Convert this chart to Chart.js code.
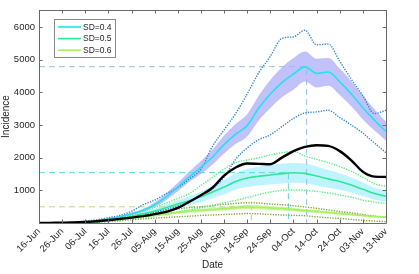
<!DOCTYPE html>
<html lang="en">
<head>
<meta charset="UTF-8">
<title>Incidence by SD</title>
<script src="https://cdn.jsdelivr.net/npm/chart.js@4/dist/chart.umd.min.js"></script>
<style>
  html, body { margin: 0; padding: 0; background: #fff; }
  #wrap { width: 419px; height: 274px; }
</style>
</head>
<body>
<div id="wrap"><canvas id="incChart"></canvas></div>
<script>
// days since 16-Jun, every 5 days
const days = [0,5,10,15,20,25,30,35,40,45,50,55,60,65,70,75,80,85,90,95,100,105,110,115,120,125,130,135,140,145,150];
const dateLabels = ['16-Jun','26-Jun','06-Jul','16-Jul','26-Jul','05-Aug','15-Aug','25-Aug','04-Sep','14-Sep','24-Sep','04-Oct','14-Oct','24-Oct','03-Nov','13-Nov'];
const yTicks = [0,1000,2000,3000,4000,5000,6000];

// observed incidence (black)
const observed = [2,5,8,15,30,55,90,125,165,210,270,340,460,650,850,1080,1450,1700,1820,1810,1800,2000,2200,2330,2380,2360,2200,1920,1570,1420,1410];

// SD=0.4
const sd4Mean  = [0,2,6,15,35,70,120,190,280,390,560,800,1100,1420,1700,2020,2400,2720,2980,3520,3950,4300,4560,4780,4580,4620,4320,3950,3530,3150,2800];
const sd4BandHi = [0,2,7,17,40,80,135,215,320,440,630,900,1230,1580,1900,2250,2680,3030,3330,3900,4380,4760,5050,5250,5030,5050,4730,4340,3900,3480,3100];
const sd4BandLo = [0,2,5,13,30,60,105,165,240,340,490,700,970,1260,1500,1790,2130,2420,2650,3140,3520,3850,4080,4330,4150,4200,3920,3570,3170,2830,2520];
const sd4Upper = [0,3,10,25,55,100,160,230,360,560,700,900,1080,1350,1650,2350,2850,3350,3950,4600,5100,5650,5700,5900,5450,5480,4950,4400,3900,3350,3450];
const sd4Lower = [0,1,4,9,20,40,70,110,160,230,330,420,520,640,850,1050,1400,1950,2300,2550,2700,2950,3200,3370,3400,3450,3230,3000,2750,2450,2150];

// SD=0.5
const sd5Mean  = [0,2,5,12,28,55,95,140,200,280,370,470,580,680,800,950,1100,1270,1380,1430,1470,1510,1540,1520,1440,1350,1270,1160,1030,900,820];
const sd5BandHi = [0,2,6,15,34,66,115,170,240,335,445,565,700,820,960,1140,1320,1520,1650,1720,1760,1810,1840,1820,1730,1620,1520,1390,1240,1080,980];
const sd5BandLo = [0,2,4,10,22,44,76,112,160,225,295,375,465,545,640,760,880,1020,1100,1145,1175,1210,1230,1215,1150,1080,1015,930,825,720,655];
const sd5Upper = [0,2,7,18,40,75,125,185,260,360,480,610,750,900,1150,1400,1650,1850,1930,2000,2080,2150,2190,2050,1950,1850,1730,1580,1400,1200,1120];
const sd5Lower = [0,1,3,8,18,35,60,90,130,170,220,280,340,400,470,540,620,690,780,870,950,1000,1010,1000,970,920,860,790,700,640,600];

// SD=0.6
const sd6Mean  = [0,2,5,10,22,45,75,115,155,200,240,280,320,360,390,415,440,465,490,480,460,440,410,380,350,320,290,260,230,200,180];
const sd6BandHi = [0,2,6,12,26,52,86,130,175,225,270,315,360,405,440,465,495,520,550,540,520,495,460,430,395,360,325,290,260,225,205];
const sd6BandLo = [0,2,4,8,18,38,64,100,135,175,210,245,280,315,340,365,385,410,430,420,400,385,360,330,305,280,255,230,200,175,155];
const sd6Upper = [0,2,7,15,32,65,110,165,220,275,330,380,430,470,500,535,570,600,620,610,580,560,530,490,450,400,350,310,260,210,180];
const sd6Lower = [0,1,3,6,12,25,45,70,100,125,150,170,190,210,230,245,260,275,290,280,260,245,235,220,190,160,140,110,80,60,40];

// peak markers (day, value) for SD=0.4, 0.5, 0.6
const peakDay = [115.7, 107.8, 91.8];
const peakVal = [4785, 1541, 495];

const pts = arr => arr.map((v, i) => ({ x: days[i], y: v }));
const refLine = i => [{ x: 0, y: peakVal[i] }, { x: peakDay[i], y: peakVal[i] }, { x: peakDay[i], y: 0 }];

const FONT = '"Liberation Sans", Arial, Helvetica, sans-serif';
Chart.defaults.font.family = FONT;
Chart.defaults.color = '#262626';

function line(data, color, width, extra) {
    return Object.assign({
        data: pts(data), borderColor: color, borderWidth: width,
        pointRadius: 0, fill: false, cubicInterpolationMode: 'monotone'
    }, extra || {});
}
function band(hi, lo, color) {
    return [
        line(hi, 'transparent', 0, { backgroundColor: color, fill: '+1', order: 5 }),
        line(lo, 'transparent', 0, { order: 5 })
    ];
}
function refDs(i, color) {
    return { data: refLine(i), borderColor: color, borderWidth: 1, borderDash: [6, 4],
             pointRadius: 0, fill: false, order: 3 };
}

// box around the axes with inward ticks, MATLAB style
const axesBox = {
    id: 'axesBox',
    afterDatasetsDraw(chart) {
        const { ctx, chartArea: a, scales: { x, y } } = chart;
        const t = 3.5;
        ctx.save();
        ctx.strokeStyle = '#6a6a6a';
        ctx.lineWidth = 1;
        ctx.beginPath();
        ctx.rect(Math.round(a.left) + 0.5, Math.round(a.top) + 0.5,
                 Math.round(a.right - a.left), Math.round(a.bottom - a.top));
        x.ticks.forEach(tk => {
            const px = Math.round(x.getPixelForValue(tk.value)) + 0.5;
            ctx.moveTo(px, a.bottom); ctx.lineTo(px, a.bottom - t);
            ctx.moveTo(px, a.top); ctx.lineTo(px, a.top + t);
        });
        y.ticks.forEach(tk => {
            const py = Math.round(y.getPixelForValue(tk.value)) + 0.5;
            ctx.moveTo(a.left, py); ctx.lineTo(a.left + t, py);
            ctx.moveTo(a.right, py); ctx.lineTo(a.right - t, py);
        });
        ctx.stroke();
        ctx.restore();
    }
};

// boxed legend in the upper-left corner
const boxLegend = {
    id: 'boxLegend',
    afterDraw(chart) {
        const ctx = chart.ctx;
        const items = chart.data.datasets.filter(d => d.label);
        ctx.save();
        ctx.fillStyle = '#fff';
        ctx.fillRect(54.5, 19.5, 61, 38);
        ctx.strokeStyle = '#8a8a8a';
        ctx.lineWidth = 1;
        ctx.strokeRect(54.5, 19.5, 61, 38);
        ctx.font = '8.5px ' + FONT;
        ctx.textBaseline = 'middle';
        items.forEach((d, i) => {
            const yy = 27 + i * 11.6;
            ctx.strokeStyle = d.borderColor;
            ctx.lineWidth = 1.6;
            ctx.beginPath();
            ctx.moveTo(58, yy); ctx.lineTo(81, yy);
            ctx.stroke();
            ctx.fillStyle = '#262626';
            ctx.fillText(d.label, 83, yy + 0.5);
        });
        ctx.restore();
    }
};

const cCyan = '#1fe3f2', cSpring = '#2fe896', cLime = '#a8f060';

new Chart(document.getElementById('incChart'), {
    type: 'line',
    data: {
        datasets: [
            line(observed, '#000000', 2.4, { order: 0 }),
            line(sd4Mean, cCyan, 1.6, { label: 'SD=0.4', order: 1 }),
            line(sd5Mean, cSpring, 1.6, { label: 'SD=0.5', order: 1 }),
            line(sd6Mean, cLime, 1.6, { label: 'SD=0.6', order: 1 }),
            line(sd4Upper, '#2f86d0', 1.4, { borderDash: [1.3, 1.3], order: 2 }),
            line(sd4Lower, '#2f86d0', 1.4, { borderDash: [1.3, 1.3], order: 2 }),
            line(sd5Upper, '#5aec7e', 1.4, { borderDash: [1.3, 1.3], order: 2 }),
            line(sd5Lower, '#5aec7e', 1.4, { borderDash: [1.3, 1.3], order: 2 }),
            line(sd6Upper, '#7fa83a', 1.4, { borderDash: [1.3, 1.3], order: 2 }),
            line(sd6Lower, '#7fa83a', 1.4, { borderDash: [1.3, 1.3], order: 2 }),
            refDs(0, '#93c0e8'),
            refDs(1, '#5fd6de'),
            refDs(2, '#b7da78'),
            ...band(sd4BandHi, sd4BandLo, 'rgba(120,120,245,0.45)'),
            ...band(sd5BandHi, sd5BandLo, 'rgba(110,228,255,0.45)'),
            ...band(sd6BandHi, sd6BandLo, 'rgba(160,240,90,0.55)')
        ]
    },
    options: {
        responsive: true,
        maintainAspectRatio: false,
        animation: false,
        layout: { padding: { left: 0, right: 33, top: 10, bottom: 0 } },
        plugins: { legend: { display: false }, tooltip: { enabled: false } },
        scales: {
            x: {
                type: 'linear', min: 0, max: 150,
                grid: { display: false, drawTicks: false }, border: { display: false },
                afterBuildTicks: s => { s.ticks = dateLabels.map((_, i) => ({ value: i * 10 })); },
                afterFit: s => { s.height = 51; },
                ticks: {
                    minRotation: 45, maxRotation: 45, padding: 3,
                    font: { size: 9.5 },
                    callback: v => dateLabels[Math.round(v / 10)]
                },
                title: { display: true, text: 'Date', font: { size: 10 }, padding: { top: 0, bottom: 3 } }
            },
            y: {
                min: 0, max: 6520,
                grid: { display: false, drawTicks: false }, border: { display: false },
                afterBuildTicks: s => { s.ticks = yTicks.map(v => ({ value: v })); },
                afterFit: s => { s.width = 39; },
                ticks: {
                    padding: 4, font: { size: 9.5 },
                    callback: v => (v === 0 ? '' : String(v))
                },
                title: { display: true, text: 'Incidence', font: { size: 10 }, padding: { top: 0, bottom: 0 } }
            }
        }
    },
    plugins: [axesBox, boxLegend]
});
</script>
</body>
</html>
